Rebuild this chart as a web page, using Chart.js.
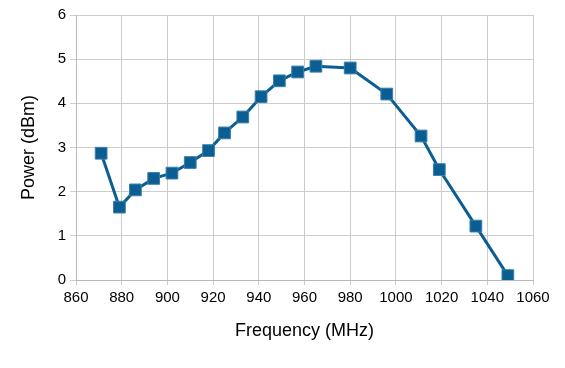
<!DOCTYPE html>
<html>
<head>
<meta charset="utf-8">
<script src="https://cdn.jsdelivr.net/npm/chart.js@4"></script>
<style>
  html, body { margin: 0; padding: 0; background: #fff; }
  #wrap { width: 565px; height: 368px; }
</style>
</head>
<body>
<div id="wrap"><canvas id="chart"></canvas></div>
<script>
// measured frequency (MHz) and output power (dBm)
const freq = [871, 879, 886, 894, 902, 910, 918, 925, 933, 941, 949, 957, 965, 980, 996, 1011, 1019, 1035, 1049];
const power = [2.87, 1.65, 2.04, 2.3, 2.42, 2.66, 2.93, 3.33, 3.69, 4.15, 4.51, 4.71, 4.84, 4.8, 4.21, 3.26, 2.5, 1.22, 0.1];

const xTitle = 'Frequency (MHz)';
const yTitle = 'Power (dBm)';

const points = freq.map((f, i) => ({ x: f, y: power[i] }));

Chart.defaults.font.family = '"Liberation Sans", Arial, sans-serif';
Chart.defaults.color = '#000';

var ctx = document.getElementById('chart');

new Chart(ctx, {
  type: 'scatter',
  data: {
    datasets: [{
      data: points,
      showLine: true,
      borderColor: '#0b5e92',
      backgroundColor: '#0b5e92',
      borderWidth: 3,
      pointStyle: 'rect',
      pointRadius: 8.3,
      pointBorderWidth: 1,
      pointBorderColor: '#3a7fad',
      tension: 0
    }]
  },
  options: {
    responsive: true,
    maintainAspectRatio: false,
    animation: false,
    layout: { padding: { left: 14, right: 32, top: 15, bottom: 22 } },
    plugins: {
      legend: { display: false },
      tooltip: { enabled: false }
    },
    scales: {
      x: {
        type: 'linear',
        min: 860,
        max: 1060,
        ticks: { stepSize: 20, font: { size: 15 }, padding: 4, callback: v => String(v) },
        grid: { color: '#cccccc', tickLength: 5 },
        border: { color: '#b8b8b8' },
        title: { display: true, text: xTitle, font: { size: 18 }, padding: { top: 6 } },
        afterFit: s => { s.height = 66; }
      },
      y: {
        min: 0,
        max: 6,
        ticks: { stepSize: 1, font: { size: 15 }, padding: 4 },
        grid: { color: '#cccccc', tickLength: 6 },
        border: { color: '#b8b8b8' },
        title: { display: true, text: yTitle, font: { size: 18 }, padding: { bottom: 0 } },
        afterFit: s => { s.width = 62; }
      }
    }
  }
});
</script>
</body>
</html>
